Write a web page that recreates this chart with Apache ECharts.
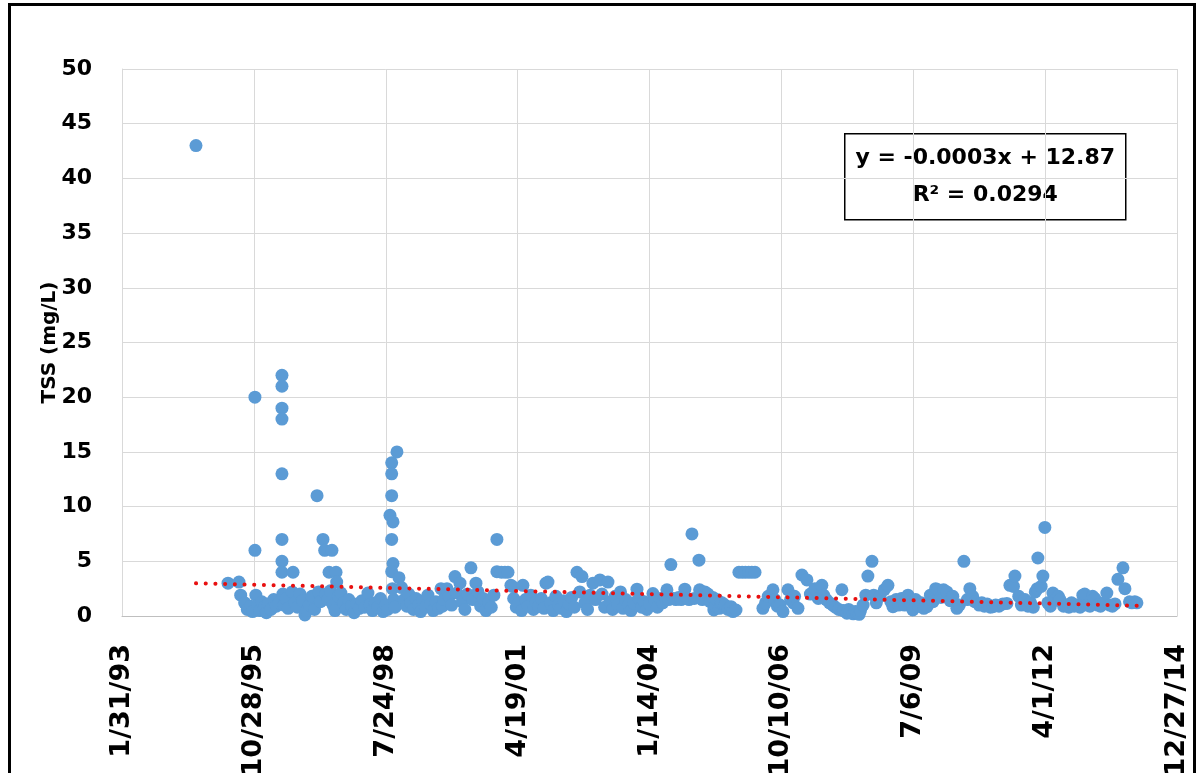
<!DOCTYPE html>
<html>
<head>
<meta charset="utf-8">
<script src="https://cdn.jsdelivr.net/npm/echarts@6/dist/echarts.min.js"></script>
<style>
  html, body { margin: 0; padding: 0; background: #ffffff; }
  #chart { width: 1201px; height: 773px; }
</style>
</head>
<body>
<div id="chart"></div>
<script>
// Sample dates are spreadsheet day serials (day 34000 = 1/31/93); values are TSS in mg/L.
const xTickLabels = ['1/31/93', '10/28/95', '7/24/98', '4/19/01', '1/14/04', '10/10/06', '7/6/09', '4/1/12', '12/27/14'];
const yTicks = [0, 5, 10, 15, 20, 25, 30, 35, 40, 45, 50];

const samples1994to1997 = [
  [34561, 43], [34804, 3.0], [34887, 3.1], [34900, 1.9], [34930, 1.2], [34950, 0.6], [34975, 0.9], [34990, 0.4],
  [35008, 20], [35008, 6.0], [35015, 1.9], [35030, 1.0], [35045, 0.5], [35060, 1.3], [35080, 0.8], [35095, 0.3],
  [35110, 1.1], [35130, 0.6], [35150, 1.5], [35170, 0.9], [35190, 1.2],
  [35213, 22], [35213, 21], [35213, 19], [35213, 18], [35213, 13], [35213, 7], [35213, 5], [35213, 4],
  [35220, 2.0], [35230, 1.0], [35245, 1.6], [35260, 0.7],
  [35290, 2.2], [35297, 4.0], [35310, 1.2], [35330, 0.8], [35350, 2.0], [35370, 1.4], [35387, 0.1], [35400, 0.5],
  [35420, 1.0], [35440, 1.8], [35460, 0.6], [35479, 11], [35490, 2.2], [35505, 1.3], [35524, 7], [35537, 6],
  [35545, 2.0], [35560, 1.5], [35570, 4], [35580, 2.3], [35592, 6], [35600, 1.0], [35615, 0.5], [35623, 4],
  [35628, 3.1], [35640, 1.8], [35660, 2.1], [35680, 1.2], [35700, 0.6], [35720, 1.5], [35740, 0.9], [35760, 0.3],
  [35780, 1.1], [35800, 0.7], [35820, 1.4], [35840, 0.8], [35865, 2.1], [35880, 1.0], [35900, 0.5], [35920, 1.2],
  [35940, 0.8], [35960, 1.6], [35980, 0.4], [36000, 1.0], [36015, 0.6]
];

const samples1998to2001 = [
  [36032, 9.2], [36045, 14], [36045, 13], [36045, 11], [36055, 8.6], [36045, 7.0], [36055, 4.8], [36045, 4.05],
  [36085, 15], [36050, 2.5], [36060, 1.5], [36070, 0.8], [36100, 3.5], [36120, 2.6], [36140, 1.5], [36160, 0.9],
  [36175, 2.0], [36190, 1.2], [36210, 0.6], [36230, 1.6], [36250, 1.0], [36265, 0.4], [36280, 1.4], [36300, 0.8],
  [36320, 1.9], [36340, 1.1], [36360, 0.5], [36380, 1.3], [36400, 0.7], [36419, 2.5], [36430, 0.9], [36440, 1.5],
  [36464, 2.5], [36480, 1.8], [36500, 1.0], [36525, 3.6], [36540, 2.1], [36563, 3.0], [36580, 1.3], [36600, 0.6],
  [36620, 2.0], [36646, 4.4], [36660, 1.5], [36684, 3.0], [36700, 2.2], [36720, 0.9], [36740, 1.6], [36760, 0.5],
  [36780, 1.2], [36800, 0.8], [36820, 1.9], [36843, 7.0], [36843, 4.05], [36877, 4.0], [36904, 4.0], [36927, 4.0],
  [36949, 2.8], [36960, 2.7], [36970, 1.6], [36990, 0.8], [37010, 1.2], [37030, 0.5], [37040, 2.8], [37060, 1.5],
  [37080, 0.9], [37100, 1.9], [37120, 0.6], [37140, 1.3], [37160, 0.9], [37180, 1.6], [37200, 0.7], [37215, 3.0],
  [37230, 3.1], [37250, 1.2], [37270, 0.5], [37290, 1.8], [37310, 1.0], [37330, 0.7], [37350, 1.4], [37370, 0.4],
  [37390, 1.1], [37410, 1.7], [37430, 0.8]
];

const samples2002to2005 = [
  [37450, 4.0], [37471, 2.2], [37488, 3.6], [37510, 1.2], [37530, 0.6], [37550, 1.9], [37571, 3.0], [37590, 1.5],
  [37624, 3.3], [37640, 2.0], [37660, 0.8], [37685, 3.1], [37700, 1.3], [37720, 0.6], [37740, 1.8], [37760, 1.0],
  [37780, 2.2], [37800, 0.7], [37820, 1.5], [37840, 1.0], [37860, 0.5], [37880, 1.2], [37905, 2.45], [37920, 1.6],
  [37940, 0.8], [37960, 1.3], [37980, 0.6], [38000, 1.1], [38026, 2.05], [38040, 1.5], [38060, 0.8], [38080, 1.6],
  [38100, 1.2], [38120, 1.7], [38132, 2.4], [38145, 1.5], [38162, 4.7], [38180, 1.6], [38200, 1.5], [38220, 1.7],
  [38240, 1.5], [38268, 2.45], [38285, 1.6], [38300, 1.5], [38322, 7.5], [38340, 1.6], [38375, 5.1], [38380, 2.4],
  [38400, 1.5], [38420, 2.2], [38443, 2.0], [38460, 1.3], [38480, 1.7], [38488, 0.55], [38500, 0.9], [38511, 1.5],
  [38530, 0.7], [38540, 1.2], [38550, 1.2], [38572, 1.0], [38595, 0.6], [38618, 0.85], [38633, 0.4], [38656, 0.55]
];

const samples2006to2009 = [
  [38678, 4.0], [38703, 4.0], [38727, 4.0], [38752, 4.0], [38776, 4.0], [38800, 4.0],
  [38860, 0.7], [38880, 1.2], [38900, 1.8], [38936, 2.4], [38950, 1.5], [38970, 0.9], [38990, 1.0], [39012, 0.4],
  [39050, 2.4], [39070, 1.5], [39090, 1.2], [39100, 1.8], [39126, 0.7], [39156, 3.75], [39194, 3.3], [39220, 2.0],
  [39254, 2.5], [39280, 1.6], [39307, 2.8], [39320, 1.9], [39341, 1.5], [39365, 1.2], [39390, 1.0], [39410, 0.8],
  [39435, 0.6], [39459, 2.4], [39470, 0.5], [39497, 0.25], [39510, 0.6], [39520, 0.3], [39545, 0.2], [39560, 0.4],
  [39573, 0.25], [39590, 0.15], [39600, 0.5], [39620, 1.0], [39640, 1.9], [39656, 3.65], [39687, 5.0], [39700, 1.9],
  [39720, 1.2], [39747, 1.8], [39780, 2.4], [39808, 2.8], [39830, 1.3], [39846, 0.85], [39870, 1.5], [39890, 1.0],
  [39910, 1.6], [39935, 1.0], [39960, 1.9], [39980, 1.3], [39997, 0.55]
];

const samples2010to2014 = [
  [40018, 1.5], [40040, 0.9], [40060, 1.2], [40080, 0.7], [40104, 0.85], [40130, 1.9], [40150, 1.3], [40170, 2.5],
  [40187, 2.4], [40210, 1.7], [40230, 2.4], [40255, 2.2], [40280, 1.4], [40300, 1.8], [40331, 0.7], [40350, 1.0],
  [40384, 5.0], [40410, 1.5], [40429, 2.5], [40450, 1.8], [40467, 1.3], [40500, 1.0], [40520, 1.2], [40540, 0.9],
  [40560, 1.1], [40585, 0.8], [40604, 0.85], [40625, 1.0], [40650, 0.9], [40680, 1.1], [40710, 1.15], [40733, 2.8],
  [40760, 2.7], [40771, 3.65], [40800, 1.8], [40820, 1.0], [40847, 1.5], [40870, 0.9], [40890, 1.2], [40910, 0.8],
  [40925, 2.2], [40940, 2.5], [40945, 5.3], [40970, 2.7], [40983, 3.65], [40998, 8.1], [41020, 1.2], [41040, 0.9],
  [41059, 2.1], [41080, 1.5], [41100, 1.8], [41112, 1.5], [41140, 0.9], [41160, 1.0], [41180, 0.8], [41200, 1.2],
  [41220, 0.9], [41245, 1.0], [41265, 0.8], [41286, 1.9], [41300, 2.0], [41320, 1.0], [41340, 0.9], [41360, 1.8],
  [41377, 1.6], [41400, 1.0], [41420, 0.9], [41445, 1.2], [41468, 2.1], [41490, 1.0], [41510, 0.9], [41530, 1.1],
  [41552, 3.35], [41590, 4.4], [41605, 2.5], [41640, 1.3], [41658, 1.2], [41680, 1.3], [41696, 1.2]
];

// Linear trend fitted over the sample period
const trendSlope = -0.000286;
const trendIntercept = 12.87;
const trendRSquared = 0.0294;

const allSamples = [].concat(samples1994to1997, samples1998to2001, samples2002to2005,
  samples2006to2009, samples2010to2014);
const days = allSamples.map(p => p[0]);
const firstDay = Math.min(...days);
const lastDay = Math.max(...days);
const trendLine = [firstDay, lastDay].map(d => [d, trendSlope * d + trendIntercept]);

const FONT = 'DejaVu Sans';
const equationText = 'y = ' + trendSlope.toFixed(4) + 'x + ' + trendIntercept.toFixed(2);
const rSquaredText = 'R\u00B2 = ' + trendRSquared.toFixed(4);

const chart = echarts.init(document.getElementById('chart'), null, { renderer: 'canvas' });

chart.setOption({
  backgroundColor: '#ffffff',
  animation: false,
  grid: { left: 122, right: 24, top: 69, bottom: 157, containLabel: false, outerBoundsMode: 'none' },
  xAxis: {
    type: 'value',
    min: 34000,
    max: 42000,
    interval: 1000,
    axisLine: { show: true, lineStyle: { color: '#BFBFBF', width: 1 } },
    axisTick: { show: false },
    splitLine: { show: true, lineStyle: { color: '#D9D9D9', width: 1 } },
    axisLabel: {
      rotate: 90,
      margin: 28,
      color: '#000000',
      fontFamily: FONT,
      fontWeight: 'bold',
      fontSize: 27,
      formatter: v => xTickLabels[Math.round((v - 34000) / 1000)]
    }
  },
  yAxis: {
    type: 'value',
    min: yTicks[0],
    max: yTicks[yTicks.length - 1],
    interval: 5,
    name: 'TSS (mg/L)',
    nameLocation: 'middle',
    nameRotate: 90,
    nameGap: 62,
    nameMoveOverlap: false,
    nameTextStyle: { color: '#000000', fontFamily: FONT, fontWeight: 'bold', fontSize: 20 },
    axisLine: { show: true, lineStyle: { color: '#D9D9D9', width: 1 } },
    axisTick: { show: false },
    splitLine: { show: true, lineStyle: { color: '#D9D9D9', width: 1 } },
    axisLabel: {
      margin: 30,
      color: '#000000',
      fontFamily: FONT,
      fontWeight: 'bold',
      fontSize: 22
    }
  },
  series: [
    {
      name: 'TSS',
      type: 'scatter',
      data: allSamples,
      symbol: 'circle',
      symbolSize: 13,
      itemStyle: { color: '#5B9BD5', opacity: 1 },
      z: 2
    },
    {
      name: 'Linear (TSS)',
      type: 'line',
      data: trendLine,
      symbol: 'none',
      lineStyle: { color: '#E81010', width: 4, type: [0.1, 9.6], cap: 'round' },
      z: 3
    }
  ],
  graphic: [
    {
      type: 'rect',
      shape: { x: 9.5, y: 4.5, width: 1185, height: 800 },
      style: { fill: 'none', stroke: '#000000', lineWidth: 3 },
      silent: true
    },
    {
      type: 'group',
      left: 844,
      top: 133,
      z: 10,
      children: [
        {
          type: 'rect',
          shape: { x: 0, y: 0, width: 281, height: 86 },
          style: { fill: '#ffffff', stroke: '#000000', lineWidth: 1.5 }
        },
        {
          type: 'text',
          x: 140.5,
          y: 25,
          style: {
            text: equationText,
            fill: '#000000',
            font: 'bold 22px "' + FONT + '"',
            align: 'center',
            verticalAlign: 'middle'
          }
        },
        {
          type: 'text',
          x: 140.5,
          y: 62,
          style: {
            text: rSquaredText,
            fill: '#000000',
            font: 'bold 22px "' + FONT + '"',
            align: 'center',
            verticalAlign: 'middle'
          }
        }
      ]
    }
  ]
});
</script>
</body>
</html>
